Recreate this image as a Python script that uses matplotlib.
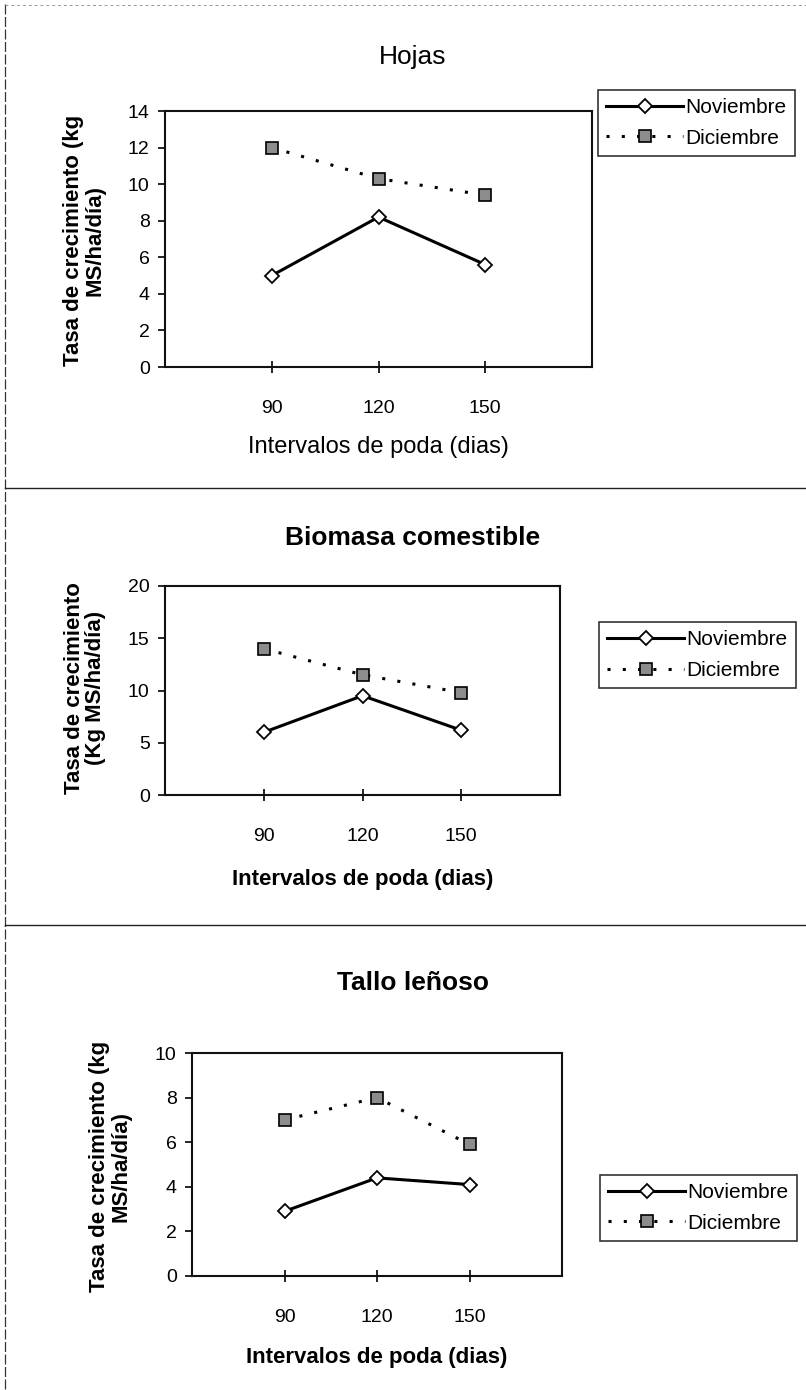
import matplotlib
matplotlib.use("Agg")
import matplotlib.pyplot as plt
from matplotlib.lines import Line2D

plt.rcParams['font.family'] = ['Liberation Sans', 'DejaVu Sans']

# Intervalos de poda (días)
intervalos = [90, 120, 150]

# Tasa de crecimiento (kg MS/ha/día) por componente
hojas_nov = [5.0, 8.2, 5.6]
hojas_dic = [12.0, 10.3, 9.4]
biomasa_nov = [6.0, 9.5, 6.2]
biomasa_dic = [14.0, 11.5, 9.8]
tallo_nov = [2.9, 4.4, 4.1]
tallo_dic = [7.0, 8.0, 5.9]

series_labels = ['Noviembre', 'Diciembre']

W, H = 806, 1390
fig = plt.figure(figsize=(W / 100, H / 100), dpi=100)


def fx(px):
    return px / W


def fy(py):
    return 1 - py / H


def panel(box, nov, dic, ymax, ystep, title, title_y, title_bold,
          ylabel, ylabel_x, ylabel_y, xlabel_y, xlabel_bold, leg_pos):
    left, top, right, bottom = box
    ax = fig.add_axes([fx(left), fy(bottom), fx(right - left), (bottom - top) / H])
    ax.plot(intervalos, nov, color='black', lw=2.2, marker='D', markersize=7.5,
            markerfacecolor='white', markeredgecolor='black', markeredgewidth=1.3,
            label=series_labels[0], zorder=3)
    ax.plot(intervalos, dic, color='black', lw=2.2, linestyle=(0, (1, 4)),
            marker='s', markersize=8.5, markerfacecolor='#8c8c8c',
            markeredgecolor='black', markeredgewidth=1.2,
            label=series_labels[1], zorder=3)
    ax.set_xlim(60, 180)
    ax.set_ylim(0, ymax)
    ax.set_xticks(intervalos)
    ax.set_yticks(range(0, ymax + 1, ystep))
    ax.tick_params(axis='y', direction='out', length=5, width=1.2, pad=6, labelsize=14)
    ax.tick_params(axis='x', direction='inout', length=9, width=1.2, pad=19, labelsize=14)
    for s in ax.spines.values():
        s.set_linewidth(1.5)
        s.set_color('#111111')

    fig.text(fx(413), fy(title_y), title, ha='center', va='center', fontsize=19,
             fontweight='bold' if title_bold else 'normal')
    fig.text(fx(ylabel_x), fy(ylabel_y), ylabel, rotation=90, ha='center', va='center',
             fontsize=16, fontweight='bold', multialignment='center', linespacing=1.05)
    fig.text(fx((left + right) / 2), fy(xlabel_y), 'Intervalos de poda (dias)',
             ha='center', va='center', fontsize=16 if xlabel_bold else 17,
             fontweight='bold' if xlabel_bold else 'normal')

    lx0, ly0 = leg_pos
    leg = ax.legend(loc='upper left', bbox_to_anchor=(fx(lx0), fy(ly0)),
                    bbox_transform=fig.transFigure, fontsize=15, frameon=True,
                    fancybox=False, edgecolor='black', handlelength=3.7,
                    handletextpad=0.1, borderpad=0.4, labelspacing=0.55,
                    borderaxespad=0)
    leg.get_frame().set_linewidth(1.2)
    return ax


panel((165, 111, 592, 367), hojas_nov, hojas_dic, 14, 2, 'Hojas', 57, False,
      'Tasa de crecimiento (kg\nMS/ha/día)', 84, 240, 447, False, (598, 90))
panel((165, 586, 560, 795), biomasa_nov, biomasa_dic, 20, 5, 'Biomasa comestible', 538, True,
      'Tasa de crecimiento\n(Kg MS/ha/día)', 85, 688, 879, True, (599, 622))
panel((192, 1053, 562, 1276), tallo_nov, tallo_dic, 10, 2, 'Tallo leñoso', 983, True,
      'Tasa de crecimiento (kg\nMS/ha/día)', 110, 1166, 1357, True, (600, 1175))

# page borders and separators
fig.add_artist(Line2D([fx(5), fx(5)], [fy(4), 0], transform=fig.transFigure,
                      color='#333333', lw=0.9, linestyle=(0, (8, 2))))
fig.add_artist(Line2D([fx(5), fx(806)], [fy(5), fy(5)], transform=fig.transFigure,
                      color='#999999', lw=0.7, linestyle=(0, (3, 3))))
for sep_y in (488, 925):
    fig.add_artist(Line2D([fx(5), 1], [fy(sep_y), fy(sep_y)], transform=fig.transFigure,
                          color='#222222', lw=1.0))

fig.savefig('out.png', dpi=100)
